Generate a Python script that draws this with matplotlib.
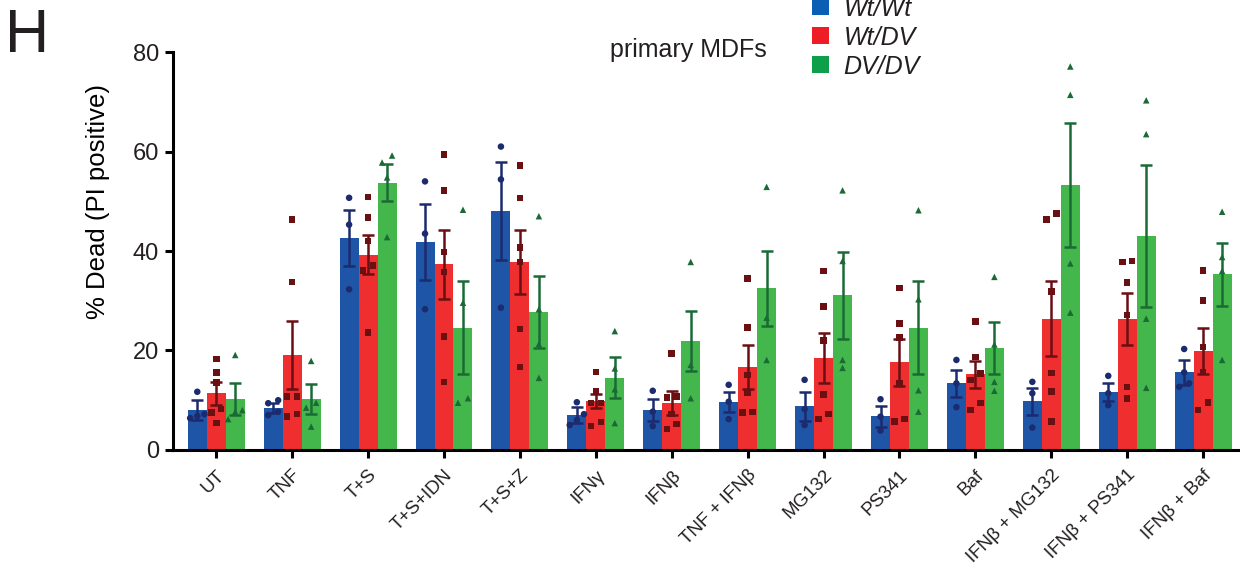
import numpy as np
import matplotlib.pyplot as plt
from matplotlib.patches import Patch

# tratamentos (eixo x)
tratamentos = ['UT', 'TNF', 'T+S', 'T+S+IDN', 'T+S+Z', 'IFNγ', 'IFNβ',
               'TNF + IFNβ', 'MG132', 'PS341', 'Baf',
               'IFNβ + MG132', 'IFNβ + PS341', 'IFNβ + Baf']
genotipos = ['Wt/Wt', 'Wt/DV', 'DV/DV']

# medias (altura das barras)
media_wtwt = [8.0, 8.4, 42.6, 41.8, 48.0, 7.0, 8.0, 9.6, 8.8, 6.8, 13.4, 9.8, 11.7, 15.6]
media_wtdv = [11.4, 19.1, 39.3, 37.3, 37.8, 9.8, 9.4, 16.7, 18.5, 17.6, 15.2, 26.4, 26.4, 19.9]
media_dvdv = [10.2, 10.2, 53.7, 24.6, 27.8, 14.5, 21.9, 32.5, 31.1, 24.6, 20.5, 53.3, 43.0, 35.3]

# erro padrao (SEM)
sem_wtwt = [2.0, 1.0, 5.6, 7.6, 9.9, 1.6, 2.2, 2.0, 2.9, 2.1, 2.7, 2.7, 1.8, 2.5]
sem_wtdv = [2.3, 6.9, 4.0, 7.0, 6.4, 1.4, 2.4, 4.5, 5.1, 4.7, 2.7, 7.5, 5.2, 4.7]
sem_dvdv = [3.2, 3.0, 3.7, 9.3, 7.2, 4.1, 6.0, 7.5, 8.7, 9.4, 5.3, 12.4, 14.2, 6.4]

# pontos individuais
pontos_wtwt = [
    [11.7, 6.4, 6.8, 7.2], [10.0, 9.4, 7.7, 7.0], [50.7, 45.3, 32.3],
    [54.0, 43.5, 28.3], [61.0, 54.4, 28.6], [9.6, 7.2, 6.0, 5.0],
    [11.9, 7.7, 4.8], [13.1, 9.7, 6.2], [14.1, 8.2, 5.0],
    [10.2, 6.7, 3.9], [18.1, 13.4, 8.6], [13.7, 11.4, 4.5],
    [14.9, 11.4, 9.0], [20.3, 15.6, 13.4, 12.7]]
pontos_wtdv = [
    [18.3, 15.6, 13.6, 8.2, 7.5, 5.4], [46.3, 33.8, 10.7, 10.7, 6.7, 7.2],
    [50.9, 46.7, 42.0, 37.1, 36.1, 23.6], [59.4, 52.2, 39.8, 35.8, 22.8, 13.7],
    [57.2, 50.7, 40.7, 37.8, 24.3, 16.7], [15.7, 11.9, 9.4, 9.4, 5.6, 4.8],
    [19.4, 10.8, 10.5, 7.2, 5.2, 4.2], [34.5, 24.6, 15.1, 11.6, 7.5, 7.6],
    [36.0, 28.8, 22.0, 11.2, 7.2, 6.2], [32.6, 25.4, 22.6, 13.4, 6.2, 5.7],
    [25.8, 18.7, 15.4, 14.1, 9.4, 8.0], [46.3, 47.5, 31.9, 15.5, 11.8, 5.7],
    [37.8, 38.0, 33.7, 27.1, 12.7, 10.4], [36.1, 30.1, 20.7, 15.7, 9.5, 8.0]]
pontos_dvdv = [
    [19.1, 8.0, 7.7, 6.2], [17.9, 9.5, 8.5, 4.7], [59.2, 57.8, 54.8, 42.8],
    [48.3, 29.6, 10.4, 9.5], [47.0, 28.3, 21.3, 14.5], [23.9, 16.4, 12.2, 5.4],
    [37.8, 17.1, 10.4], [52.9, 26.6, 18.1], [52.2, 38.0, 18.1, 16.5],
    [48.2, 30.3, 12.0, 7.7], [34.8, 21.2, 13.7, 11.9], [77.1, 71.4, 37.5, 27.6],
    [70.3, 63.5, 26.4, 12.5], [47.9, 38.8, 36.0, 18.1]]

cores_barra = ['#1f55a7', '#ee2e2f', '#43b74b']
cores_ponto = ['#1c2a6e', '#6a0f12', '#1b6a36']
marcadores = ['o', 's', '^']
cores_legenda = ['#0a5fb4', '#ee1c25', '#0d9f49']

medias = [media_wtwt, media_wtdv, media_dvdv]
sems = [sem_wtwt, sem_wtdv, sem_dvdv]
pontos = [pontos_wtwt, pontos_wtdv, pontos_dvdv]

plt.rcParams['font.family'] = ['Liberation Sans', 'DejaVu Sans']
plt.rcParams['text.color'] = '#231f20'

fig = plt.figure(figsize=(12.4, 5.66), dpi=100)
ax = fig.add_axes([0.1395, 0.205, 0.862, 0.703])

x = np.arange(len(tratamentos))
largura = 0.25


def espalhar(valores, limite=1.6):
    # desloca na horizontal pontos com valores muito proximos
    ordem = np.argsort(valores)
    desl = np.zeros(len(valores))
    grupo = [ordem[0]]
    grupos = []
    for i in ordem[1:]:
        if valores[i] - valores[grupo[-1]] < limite:
            grupo.append(i)
        else:
            grupos.append(grupo)
            grupo = [i]
    grupos.append(grupo)
    for g in grupos:
        n = len(g)
        if n > 1:
            offs = np.linspace(-0.5, 0.5, n) * min(1.0, 0.35 * n)
            for k, idx in enumerate(g):
                desl[idx] = offs[k]
    return desl


for j in range(3):
    xs = x + (j - 1) * largura
    ax.bar(xs, medias[j], width=largura, color=cores_barra[j],
           edgecolor='none', zorder=2)
    ax.errorbar(xs, medias[j], yerr=sems[j], fmt='none',
                ecolor=cores_ponto[j], elinewidth=1.8, capsize=4,
                capthick=1.8, zorder=3)
    for i in range(len(tratamentos)):
        vals = np.array(pontos[j][i])
        d = espalhar(vals) * largura * 0.75
        ax.scatter(xs[i] + d, vals, marker=marcadores[j], s=22,
                   color=cores_ponto[j], edgecolors='none', zorder=4)

ax.set_xlim(-0.57, 13.51)
ax.set_ylim(0, 80)
ax.set_yticks([0, 20, 40, 60, 80])
ax.set_xticks(x)
ax.set_xticklabels(tratamentos, rotation=45, ha='right',
                   rotation_mode='anchor', fontsize=13.5)
ax.tick_params(axis='y', labelsize=17, width=2.2, length=6, pad=4,
               labelcolor='#231f20')
ax.tick_params(axis='x', width=2.2, length=6, pad=6, labelcolor='#231f20')
ax.spines['top'].set_visible(False)
ax.spines['right'].set_visible(False)
ax.spines['left'].set_linewidth(2.2)
ax.spines['bottom'].set_linewidth(2.2)
ax.set_ylabel('% Dead (PI positive)', fontsize=18.5)
ax.yaxis.set_label_coords(-0.059, 0.625)

fig.text(0.004, 0.985, 'H', fontsize=44, va='top', ha='left')
fig.text(0.492, 0.912, 'primary MDFs', fontsize=18, va='center', ha='left')

handles = [Patch(facecolor=c, edgecolor='none') for c in cores_legenda]
fig.legend(handles, genotipos, loc='upper left', bbox_to_anchor=(0.641, 1.037),
           frameon=False, prop={'style': 'italic', 'size': 18},
           handlelength=0.65, handleheight=0.65, handletextpad=0.6,
           labelspacing=0.2, borderpad=0.2)

fig.savefig('out.png', dpi=100)
